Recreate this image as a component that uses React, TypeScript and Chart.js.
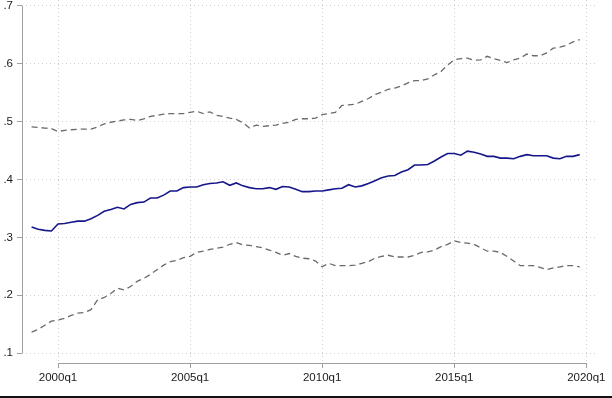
import React, { useEffect, useRef } from "react";
import { Chart, registerables } from "chart.js";

Chart.register(...registerables);

// Quarterly observations, 1999q1 .. 2019q4
const quarterLabels: string[] = [];
for (let y = 1999; y <= 2019; y++) for (let q = 1; q <= 4; q++) quarterLabels.push(`${y}q${q}`);

const estimate = [
  0.318, 0.314, 0.312, 0.311, 0.323, 0.324, 0.326, 0.328, 0.328, 0.332,
  0.338, 0.345, 0.348, 0.352, 0.349, 0.357, 0.360, 0.361, 0.368, 0.368,
  0.373, 0.380, 0.380, 0.386, 0.387, 0.387, 0.391, 0.393, 0.394, 0.396,
  0.390, 0.394, 0.389, 0.386, 0.384, 0.384, 0.386, 0.383, 0.388, 0.387,
  0.383, 0.379, 0.379, 0.380, 0.380, 0.382, 0.384, 0.385, 0.391, 0.387,
  0.389, 0.393, 0.398, 0.403, 0.406, 0.407, 0.413, 0.417, 0.425, 0.425,
  0.426, 0.432, 0.439, 0.445, 0.445, 0.442, 0.449, 0.447, 0.444, 0.440,
  0.440, 0.437, 0.437, 0.436, 0.440, 0.443, 0.441, 0.441, 0.441, 0.437,
  0.436, 0.440, 0.440, 0.443,
];

const upperBand = [
  0.491, 0.490, 0.489, 0.488, 0.483, 0.485, 0.486, 0.487, 0.487, 0.487,
  0.491, 0.496, 0.499, 0.501, 0.503, 0.504, 0.502, 0.505, 0.509, 0.511,
  0.513, 0.514, 0.514, 0.514, 0.516, 0.518, 0.514, 0.517, 0.511, 0.509,
  0.506, 0.504, 0.498, 0.489, 0.494, 0.492, 0.493, 0.494, 0.497, 0.499,
  0.504, 0.505, 0.505, 0.506, 0.512, 0.514, 0.516, 0.528, 0.529, 0.530,
  0.535, 0.540, 0.547, 0.551, 0.556, 0.558, 0.562, 0.567, 0.571, 0.571,
  0.574, 0.581, 0.587, 0.598, 0.607, 0.609, 0.610, 0.606, 0.607, 0.613,
  0.609, 0.606, 0.602, 0.607, 0.610, 0.617, 0.614, 0.614, 0.619, 0.627,
  0.629, 0.632, 0.638, 0.642,
];

const lowerBand = [
  0.136, 0.141, 0.148, 0.155, 0.157, 0.160, 0.165, 0.169, 0.170, 0.175,
  0.192, 0.196, 0.203, 0.212, 0.209, 0.215, 0.224, 0.229, 0.236, 0.244,
  0.252, 0.258, 0.260, 0.265, 0.267, 0.274, 0.276, 0.279, 0.281, 0.283,
  0.288, 0.291, 0.287, 0.286, 0.284, 0.282, 0.278, 0.274, 0.269, 0.272,
  0.267, 0.264, 0.263, 0.259, 0.249, 0.255, 0.251, 0.251, 0.251, 0.252,
  0.255, 0.258, 0.264, 0.267, 0.269, 0.266, 0.266, 0.266, 0.269, 0.274,
  0.275, 0.278, 0.284, 0.288, 0.294, 0.291, 0.290, 0.288, 0.282, 0.276,
  0.276, 0.274, 0.267, 0.259, 0.251, 0.251, 0.251, 0.248, 0.244, 0.247,
  0.249, 0.251, 0.251, 0.249,
];

// x positions are quarter indices counted from 1999q1 = 0
const xTickValues = [4, 24, 44, 64, 84];
const xTickLabels = ["2000q1", "2005q1", "2010q1", "2015q1", "2020q1"];
const yTickValues = [0.1, 0.2, 0.3, 0.4, 0.5, 0.6, 0.7];

const FONT = { family: "'Liberation Sans', Arial, sans-serif", size: 11.5 };
const AXIS_COLOR = "#a0a0a0";
const GRID_COLOR = "#cfcfcf";

const axisLines = {
  id: "axisLines",
  afterDraw(chart: any) {
    const { ctx, chartArea, scales } = chart;
    const x = scales.x;
    const y = scales.y;
    ctx.save();
    ctx.strokeStyle = AXIS_COLOR;
    ctx.lineWidth = 1;
    ctx.setLineDash([]);
    ctx.beginPath();
    const lx = Math.round(chartArea.left) + 0.5;
    ctx.moveTo(lx, y.getPixelForValue(yTickValues[yTickValues.length - 1]));
    ctx.lineTo(lx, y.getPixelForValue(yTickValues[0]));
    const by = Math.round(chartArea.bottom) + 0.5;
    ctx.moveTo(x.getPixelForValue(xTickValues[0]), by);
    ctx.lineTo(x.getPixelForValue(xTickValues[xTickValues.length - 1]), by);
    ctx.stroke();
    ctx.restore();
  },
};

export default function App() {
  const ref = useRef<HTMLCanvasElement | null>(null);

  useEffect(() => {
    document.body.style.margin = "0";
    const canvas = ref.current;
    if (!canvas) return;
    const mk = (arr: number[]) => arr.map((v, i) => ({ x: i, y: v }));
    const gridOpts = {
      color: GRID_COLOR,
      tickColor: AXIS_COLOR,
      tickLength: 5,
      tickBorderDash: [],
      drawTicks: true,
    };
    const chart = new Chart(canvas, {
      type: "line",
      data: {
        labels: quarterLabels,
        datasets: [
          {
            label: "upper",
            data: mk(upperBand),
            borderColor: "#6a6a6a",
            borderWidth: 1.3,
            borderDash: [6, 4],
            pointRadius: 0,
            tension: 0,
            fill: false,
          },
          {
            label: "estimate",
            data: mk(estimate),
            borderColor: "#16168a",
            borderWidth: 1.6,
            pointRadius: 0,
            tension: 0,
            fill: false,
          },
          {
            label: "lower",
            data: mk(lowerBand),
            borderColor: "#6a6a6a",
            borderWidth: 1.3,
            borderDash: [6, 4],
            pointRadius: 0,
            tension: 0,
            fill: false,
          },
        ],
      },
      options: {
        animation: false,
        responsive: false,
        devicePixelRatio: 1,
        layout: { padding: { top: 0, right: 14, left: 0, bottom: 0 } },
        plugins: { legend: { display: false }, tooltip: { enabled: false } },
        scales: {
          x: {
            type: "linear",
            min: 4 - 36 / 6.604,
            max: 4 + 540 / 6.604,
            border: { display: false, dash: [1, 3] },
            grid: gridOpts,
            ticks: {
              autoSkip: false,
              maxRotation: 0,
              padding: 3,
              color: "#1a1a1a",
              font: FONT,
              callback: (_v: any, i: number) => xTickLabels[i],
            },
            afterBuildTicks: (s: any) => {
              s.ticks = xTickValues.map((v) => ({ value: v }));
            },
            afterFit: (s: any) => {
              s.height = 33;
              s.paddingLeft = 0;
              s.paddingRight = 0;
            },
          },
          y: {
            type: "linear",
            min: 0.1 - 10 / 579,
            max: 0.7 + 6 / 579,
            border: { display: false, dash: [1, 3] },
            grid: gridOpts,
            ticks: {
              padding: 4,
              color: "#1a1a1a",
              font: FONT,
              callback: (v: any) => Number(v).toFixed(1).replace(/^0/, ""),
            },
            afterBuildTicks: (s: any) => {
              s.ticks = yTickValues.map((v) => ({ value: v }));
            },
            afterFit: (s: any) => {
              s.width = 22;
              s.paddingTop = 0;
              s.paddingBottom = 0;
            },
          },
        },
      },
      plugins: [axisLines],
    });
    return () => chart.destroy();
  }, []);

  return (
    <div style={{ width: 612, height: 398, background: "#fff", boxSizing: "border-box", borderBottom: "2px solid #111" }}>
      <canvas ref={ref} width={612} height={396} style={{ display: "block" }} />
    </div>
  );
}
